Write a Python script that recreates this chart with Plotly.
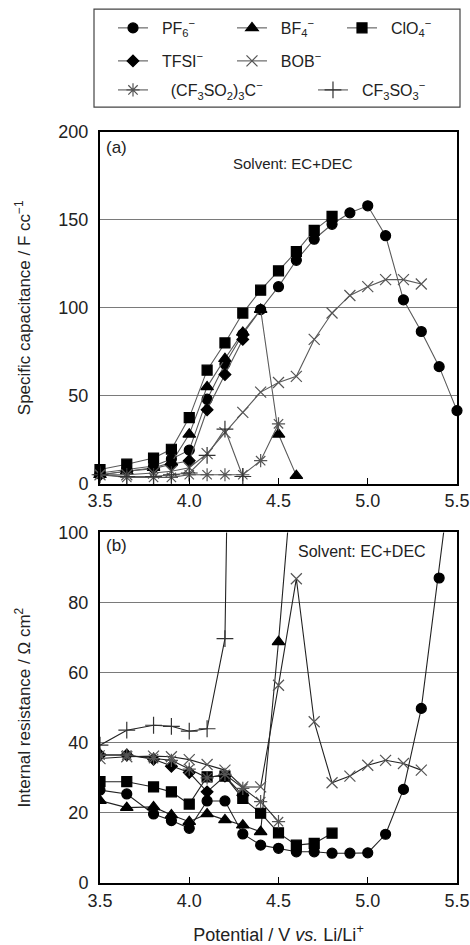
import plotly.graph_objects as go

# ---------------- data ----------------
V = [3.5, 3.65, 3.8, 3.9, 4.0, 4.1, 4.2, 4.3, 4.4, 4.5, 4.6, 4.7, 4.8, 4.9, 5.0, 5.1, 5.2, 5.3, 5.4, 5.5]

names = ["PF<sub>6</sub><sup>−</sup>", "BF<sub>4</sub><sup>−</sup>", "ClO<sub>4</sub><sup>−</sup>",
         "TFSI<sup>−</sup>", "BOB<sup>−</sup>",
         "(CF<sub>3</sub>SO<sub>2</sub>)<sub>3</sub>C<sup>−</sup>", "CF<sub>3</sub>SO<sub>3</sub><sup>−</sup>"]

# (a) specific capacitance / F cc-1
pf6_a = [6, 8, 10, 14, 19, 48, 68, 85, 99, 112, 127, 139, 147.5, 154, 158, 141, 104.5, 86.5, 66.5, 41.5]
bf4_a = [5, 7, 9, 12, 28, 55, 71, 86, 99, 28, 4.5]
clo4_a = [8, 11, 14.5, 19.5, 37.5, 64.5, 80, 97, 110, 121, 132, 144, 152]
tfsi_a = [5, 7, 8.5, 11, 13, 42, 62, 82]
bob_a = [5, 5, 6, 7, 9, 17, 29, 40.5, 52, 57.5, 61, 82, 97, 107, 112, 116, 116, 113.5]
tris_a = [5, 3.5, 3.5, 3.5, 5, 5, 5, 5, 13, 34]
cf3so3_a = [5, 4, 4, 5, 6, 16, 31, 4]

# (b) internal resistance / ohm cm2
pf6_b = [26.5, 25.4, 19.7, 17.8, 15.6, 23.4, 23.4, 14, 10.8, 9.9, 8.9, 8.9, 8.5, 8.5, 8.6, 13.9, 26.7, 49.8, 87, 130]
bf4_b = [23.5, 21.5, 21.7, 19.4, 17.5, 19.7, 18, 16.5, 14.6, 68.8, 130]
clo4_b = [28.9, 28.9, 27.4, 26, 22.5, 30.3, 30.5, 24.1, 19.9, 14.3, 10.8, 11.3, 14.2]
tfsi_b = [36.5, 36.5, 35.3, 33.3, 31.5, 26, 30.5, 25]
bob_b = [35.5, 36, 36.2, 36, 35.2, 33.8, 32.2, 27.4, 27.4, 56.4, 86.8, 46, 28.6, 30.5, 33.6, 35, 34.1, 32.2]
tris_b = [36.5, 36.5, 35.5, 35, 32.5, 30, 31, 27, 23.2, 17.5]
cf3so3_b = [39.3, 43.6, 45, 44.7, 43.3, 44, 69.7, 400]

series_a = [pf6_a, bf4_a, clo4_a, tfsi_a, bob_a, tris_a, cf3so3_a]
series_b = [pf6_b, bf4_b, clo4_b, tfsi_b, bob_b, tris_b, cf3so3_b]

symbols = ["circle", "triangle-up", "square", "diamond", "x-thin-open", "asterisk-open", "cross-thin-open"]
sizes = [10, 11, 10, 9, 11, 11, 12]
mcolors = ["black", "black", "black", "black", "#555", "#555", "#333"]

# legend layout (one small legend per entry, as in the original boxed key)
leg_pos = [(0.0364, 1.1370), (0.3697, 1.1370), (0.6779, 1.1370),
           (0.0364, 1.0931), (0.3697, 1.0931),
           (0.0364, 1.0545), (0.5966, 1.0545)]
leg_pad = ["\u00a0\u00a0", "\u00a0\u00a0", "\u00a0\u00a0", "\u00a0\u00a0", "\u00a0\u00a0",
           "\u00a0\u00a0\u00a0\u00a0", "\u00a0\u00a0"]

FONT = "Liberation Sans, Arial, sans-serif"

fig = go.Figure()

legends = {}
for i, (ya, yb) in enumerate(zip(series_a, series_b)):
    lname = "legend" if i == 0 else f"legend{i + 1}"
    mk = dict(symbol=symbols[i], size=sizes[i], color=mcolors[i],
              line=dict(color=mcolors[i], width=1.2))
    fig.add_trace(go.Scatter(x=V[:len(ya)], y=ya, mode="lines+markers", name=leg_pad[i] + names[i],
                             line=dict(color="#5a5a5a", width=1.1), marker=mk,
                             xaxis="x", yaxis="y", cliponaxis=False, showlegend=True,
                             legend=lname))
    fig.add_trace(go.Scatter(x=V[:len(yb)], y=yb, mode="lines+markers", name=names[i],
                             line=dict(color="#222", width=1.1), marker=mk,
                             xaxis="x2", yaxis="y2", showlegend=False))
    legends[lname] = dict(x=leg_pos[i][0], y=leg_pos[i][1], xanchor="left", yanchor="middle",
                          bgcolor="rgba(0,0,0,0)", borderwidth=0,
                          font=dict(size=16, family=FONT, color="#222"))

axis_common = dict(showline=True, linewidth=2, linecolor="black", mirror=True, automargin=False,
                   tickfont=dict(size=18, color="#222", family=FONT))

fig.update_layout(
    width=470, height=945,
    margin=dict(l=100, r=13, t=131, b=62),
    paper_bgcolor="white", plot_bgcolor="white",
    font=dict(family=FONT, color="#222"),
    xaxis=dict(domain=[0, 1], range=[3.5, 5.5], dtick=0.5, tickformat=".1f",
               ticks="inside", ticklen=6, tickcolor="black", showgrid=False, anchor="y",
               zeroline=False, **axis_common),
    yaxis=dict(domain=[0.5319, 1], range=[0, 200], dtick=50, ticks="", showgrid=True,
               gridcolor="#7a7a7a", gridwidth=1.3, zeroline=False, anchor="x", ticklabelstandoff=6,
               title=dict(text="Specific capacitance / F cc<sup>−1</sup>", font=dict(size=17, family=FONT),
                          standoff=23),
               **axis_common),
    xaxis2=dict(domain=[0, 1], range=[3.5, 5.5], dtick=0.5, tickformat=".1f",
                ticks="inside", ticklen=6, tickcolor="black", showgrid=False, anchor="y2", zeroline=False,
                title=dict(text="Potential / V <i>vs.</i> Li/Li<sup>+</sup>", font=dict(size=18, family=FONT),
                           standoff=26),
                **axis_common),
    yaxis2=dict(domain=[0, 0.4668], range=[0, 100], dtick=20, ticks="", showgrid=True,
                gridcolor="#7a7a7a", gridwidth=1.3, zeroline=False, anchor="x2", ticklabelstandoff=6,
                title=dict(text="Internal resistance / Ω cm<sup>2</sup>", font=dict(size=17, family=FONT),
                           standoff=23),
                **axis_common),
    shapes=[dict(type="rect", xref="paper", yref="paper", x0=-0.0168, x1=1.0084, y0=1.0332, y1=1.1636,
                 line=dict(color="#444", width=1.2), fillcolor="rgba(0,0,0,0)")],
    annotations=[
        dict(text="(a)", x=0.012, y=0.995, xref="paper", yref="paper", xanchor="left", yanchor="top",
             showarrow=False, font=dict(size=17, family=FONT, color="#222")),
        dict(text="Solvent: EC+DEC", x=4.58, y=182, xref="x", yref="y", xanchor="center",
             showarrow=False, font=dict(size=15, family=FONT, color="#222")),
        dict(text="(b)", x=0.012, y=0.4648, xref="paper", yref="paper", xanchor="left", yanchor="top",
             showarrow=False, font=dict(size=17, family=FONT, color="#222")),
        dict(text="Solvent: EC+DEC", x=4.97, y=94.5, xref="x2", yref="y2", xanchor="center",
             showarrow=False, font=dict(size=16, family=FONT, color="#222")),
    ],
)
fig.update_layout(**legends)

fig.write_html("out.html")
